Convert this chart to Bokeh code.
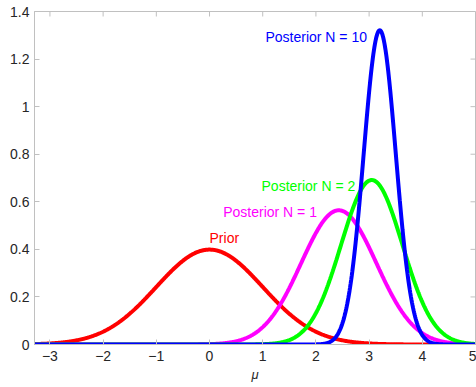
import numpy as np
from bokeh.plotting import figure
from bokeh.models import Range1d, FixedTicker, Label
from bokeh.embed import file_html
from bokeh.resources import INLINE

# Normal densities: prior and posteriors after N observations
names = ["Prior", "Posterior N = 1", "Posterior N = 2", "Posterior N = 10"]
means = [0.0, 2.43, 3.05, 3.2]
sds = [1.0, 0.707, 0.577, 0.302]
colors = ["#ff0000", "#ff00ff", "#00ff00", "#0000ff"]

# label anchors (data coords) and alignment
label_x = [0.0, 2.02, 2.74, 2.96]
label_y = [0.447, 0.556, 0.665, 1.293]
label_align = ["left", "right", "right", "right"]

x_ticks = [-3, -2, -1, 0, 1, 2, 3, 4, 5]
y_ticks = [0, 0.2, 0.4, 0.6, 0.8, 1.0, 1.2, 1.4]
y_labels = {0: "0", 0.2: "0.2", 0.4: "0.4", 0.6: "0.6", 0.8: "0.8",
            1.0: "1", 1.2: "1.2", 1.4: "1.4"}

x_lo, x_hi = -3.29, 5.0
y_lo, y_hi = 0.0, 1.4

mu = np.linspace(-3.3, 5, 800)

p = figure(width=476, height=387, output_backend="svg", toolbar_location=None,
           x_range=Range1d(x_lo, x_hi), y_range=Range1d(y_lo, y_hi),
           min_border_left=34, min_border_right=1, min_border_top=11,
           min_border_bottom=43)
p.xgrid.visible = False
p.ygrid.visible = False
p.background_fill_color = "white"
p.border_fill_color = "white"

axis_gray = "#c0c0c0"
text_gray = "#262626"
p.outline_line_color = axis_gray

# inward tick marks on the top and right edges of the box
tick_dy = 5 * (y_hi - y_lo) / 333.0
tick_dx = 5 * (x_hi - x_lo) / 441.0
p.segment(x0=x_ticks, y0=[y_hi] * len(x_ticks), x1=x_ticks,
          y1=[y_hi - tick_dy] * len(x_ticks), line_color=axis_gray, line_width=1)
p.segment(x0=[x_hi] * len(y_ticks), y0=y_ticks, x1=[x_hi - tick_dx] * len(y_ticks),
          y1=y_ticks, line_color=axis_gray, line_width=1)

for m, s, c in zip(means, sds, colors):
    dens = np.exp(-0.5 * ((mu - m) / s) ** 2) / (s * np.sqrt(2 * np.pi))
    p.line(mu, dens, line_color=c, line_width=4)

for n, x, y, a, c in zip(names, label_x, label_y, label_align, colors):
    p.add_layout(Label(x=x, y=y, text=n, text_align=a, text_baseline="middle",
                       text_color=c, text_font="Liberation Sans",
                       text_font_size="14px"))

def style(ax):
    ax.axis_line_color = axis_gray
    ax.major_tick_line_color = axis_gray
    ax.minor_tick_line_color = None
    ax.major_tick_in = 5
    ax.major_tick_out = 0
    ax.major_label_text_font = "Liberation Sans"
    ax.major_label_text_font_size = "14px"
    ax.major_label_text_color = text_gray

p.xaxis.ticker = FixedTicker(ticks=x_ticks)
p.yaxis.ticker = FixedTicker(ticks=y_ticks)
p.yaxis.major_label_overrides = y_labels
style(p.xaxis[0])
style(p.yaxis[0])
p.xaxis.major_label_standoff = 6
p.yaxis.major_label_standoff = 5
p.xaxis.axis_label = "μ"
p.xaxis.axis_label_text_font = "Liberation Sans"
p.xaxis.axis_label_text_font_style = "italic"
p.xaxis.axis_label_text_font_size = "13px"
p.xaxis.axis_label_text_color = text_gray
p.xaxis.axis_label_standoff = 3

open("out.html", "w").write(file_html(p, INLINE))
